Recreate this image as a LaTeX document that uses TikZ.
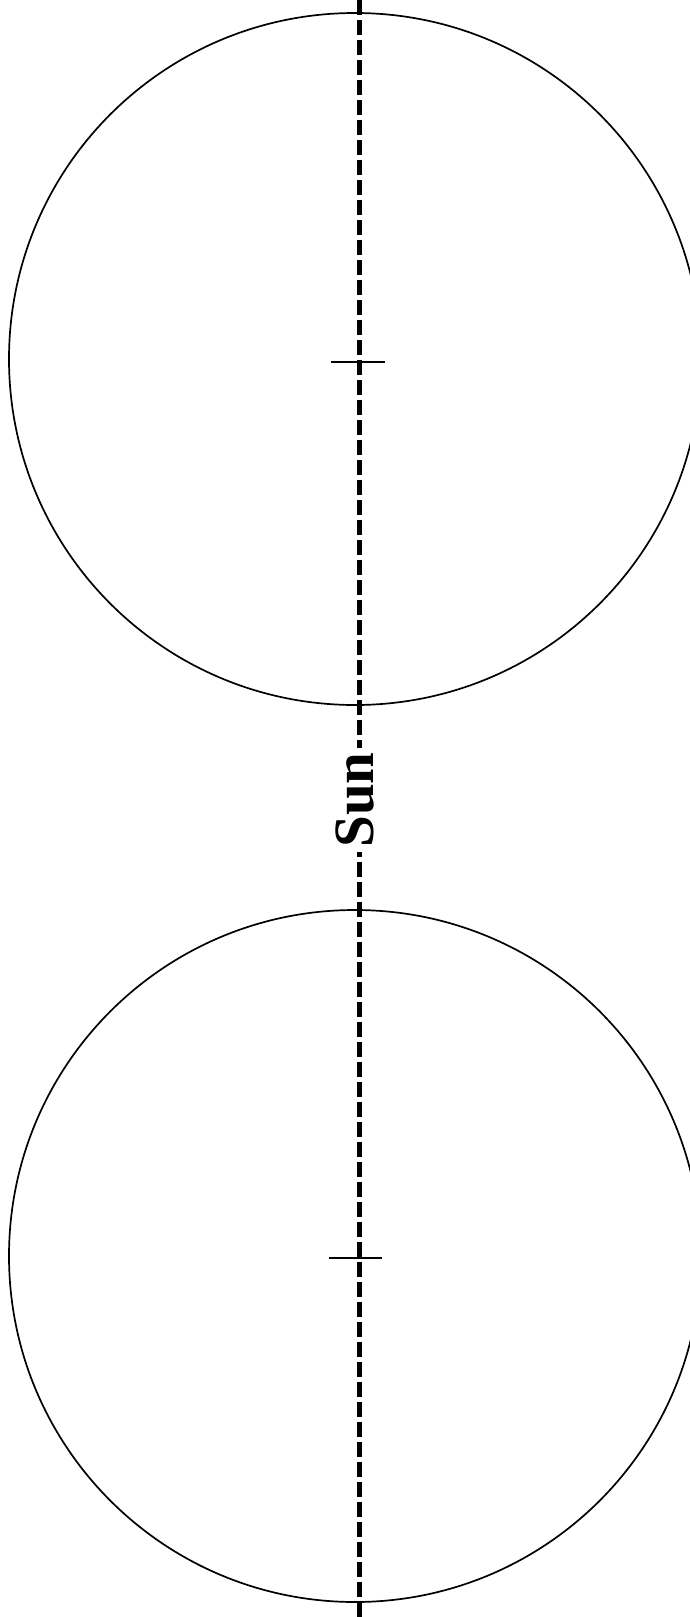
\documentclass[tikz,border=0pt]{standalone}
\usepackage{fontspec}
\setmainfont{Liberation Serif}
\begin{document}
\begin{tikzpicture}[x=1pt,y=-1pt]
  \useasboundingbox (0,0) rectangle (689,1617);
  \tikzset{axis/.style={line width=5pt,dash pattern=on 15pt off 5pt},
    disc/.style={line width=1.7pt}}
  \draw[disc] (355,359) circle (346);
  \draw[disc] (355,1256) circle (346);
  \coordinate (top) at (359,0);
  \coordinate (bottom) at (359,1617);
  \node[rotate=90,inner sep=4pt,font=\fontsize{57}{60}\selectfont\bfseries] (sun) at (355,800) {Sun};
  \draw[axis] (top) -- (top |- sun.east);
  \draw[axis] (bottom) -- (bottom |- sun.west);
  \draw[line width=2pt] (331,362) -- (385,362);
  \draw[line width=2pt] (329,1258) -- (382,1258);
\end{tikzpicture}
\end{document}
